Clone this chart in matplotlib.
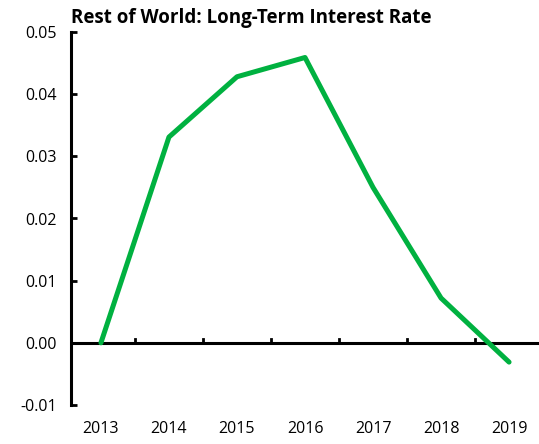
import matplotlib
matplotlib.use("Agg")
import matplotlib.pyplot as plt

years = ["2013", "2014", "2015", "2016", "2017", "2018", "2019"]
rates = [0.0000, 0.0331, 0.0428, 0.0459, 0.0250, 0.0072, -0.0031]
yticks = [-0.01, 0.00, 0.01, 0.02, 0.03, 0.04, 0.05]

plt.rcParams["font.family"] = ["Open Sans", "DejaVu Sans"]

fig = plt.figure(figsize=(5.39, 4.44), dpi=100)
ax = fig.add_axes([71 / 539, 1 - 405 / 444, 1 - 71 / 539, (405 - 32) / 444])

x = list(range(len(years)))
ax.plot(x, rates, color="#00B140", lw=3.6, solid_capstyle="round", zorder=3)

ax.set_ylim(-0.01, 0.05)
ax.set_xlim(-0.44, 6.44)
ax.set_yticks(yticks)
ax.set_yticklabels([f"{v:.2f}" for v in yticks], fontsize=11.5)
ax.tick_params(axis="y", direction="in", length=4, width=2, pad=10)

ax.set_xticks([])
for xi, lab in zip(x, years):
    ax.text(xi, -0.0138, lab, ha="center", va="center", fontsize=11.5)
for b in range(len(years) - 1):
    ax.plot([b + 0.5, b + 0.5], [0, 0.0006], color="black", lw=2, zorder=2)
ax.axhline(0, color="black", lw=2.2, zorder=2)

for s in ["top", "right", "bottom"]:
    ax.spines[s].set_visible(False)
ax.spines["left"].set_linewidth(2.2)

fig.text(71 / 539, 1 - 18 / 444, "Rest of World: Long-Term Interest Rate",
         fontsize=13.5, fontweight="bold", ha="left", va="center")

fig.savefig("out.png", dpi=100)
